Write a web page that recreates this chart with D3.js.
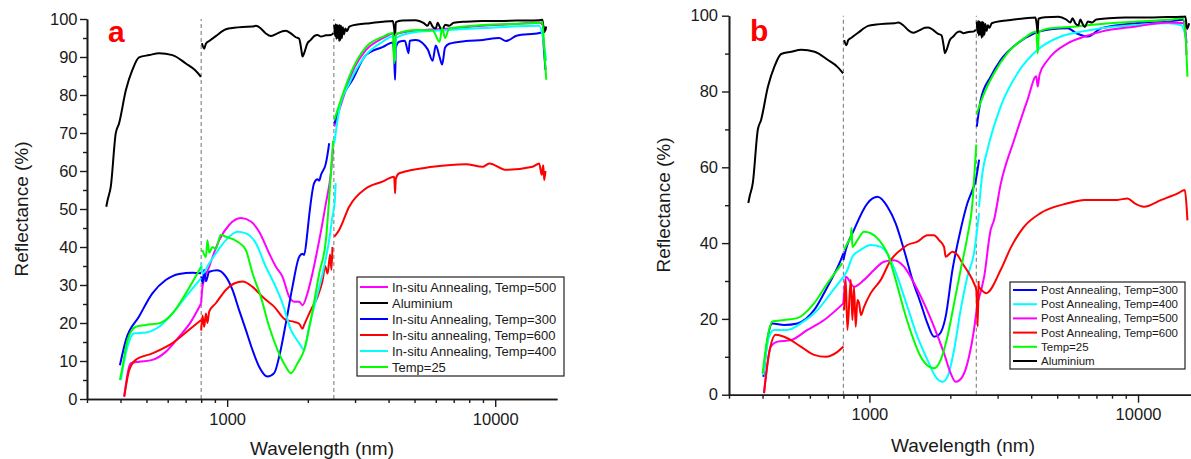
<!DOCTYPE html>
<html>
<head>
<meta charset="utf-8">
<script src="https://cdnjs.cloudflare.com/ajax/libs/d3/7.8.5/d3.min.js"></script>
<style>
  html, body { margin: 0; padding: 0; background: #fff; }
  svg { display: block; font-family: Arial, "Liberation Sans", sans-serif; }
</style>
</head>
<body>
<svg id="chart" width="1191" height="459"></svg>
<script>
// ---------------- DATA (wavelength nm, reflectance %) ----------------
// each series is a list of measured segments (UV-Vis / NIR / FTIR)
const aluminium = [
  [[354,50.6],[358,52.3],[368,55.9],[384,69.9],[395,72.5],[419,81.3],[443,86.6],[469,89.9],[512,90.5],[557,91.0],[625,90.5],[701,88.3],[760,86.5],[798,84.8]],
  [[805,93.6],[821,92.2],[833,93.5],[857,94.2],[907,95.5],[989,97.3],[1062,97.7],[1141,97.9],[1243,98.0],[1280,98.2],[1335,97.5],[1394,96.2],[1455,95.5],[1520,96.0],[1608,96.8],[1655,96.9],[1729,96.2],[1804,95.2],[1856,94.8],[1890,92.0],[1910,90.1],[1937,91.0],[1993,93.6],[2051,94.5],[2111,95.5],[2173,95.8],[2239,95.4],[2335,95.7],[2437,95.8],[2490,96.3]],
  [[2510,98.4],[2525,95.5],[2540,98.6],[2555,94.8],[2570,98.5],[2590,95.0],[2605,98.3],[2617,94.2],[2630,98.4],[2645,94.5],[2660,98.2],[2680,95.0],[2700,97.8],[2730,96.0],[2760,97.5],[2800,96.8],[2852,98.0],[3109,98.6],[3292,98.8],[3796,99.3],[4150,99.5],[4198,97.5],[4230,95.4],[4258,99.2],[4500,99.6],[5058,99.7],[5400,99.0],[5600,98.2],[5700,99.3],[5840,98.0],[6000,97.5],[6100,99.0],[6200,98.0],[6340,97.0],[6500,98.5],[6734,98.2],[7000,99.0],[7772,99.3],[8973,99.5],[10350,99.5],[12000,99.6],[14590,99.7],[15000,99.8],[15230,96.5],[15500,98.0]]
];

// Panel a : in-situ annealing
const insitu500 = [
  [[413,0.6],[437,9.4],[469,9.8],[526,10.3],[590,12.4],[662,16.4],[732,20.3],[800,25.2]],
  [[800,25.2],[809,29.5],[857,34.8],[934,41.8],[1017,45.8],[1125,47.6],[1226,46.7],[1316,44.0],[1435,38.3],[1520,34.8],[1608,32.2],[1704,26.9],[1778,25.6],[1856,25.6],[1910,24.7],[1993,27.8],[2081,33.1],[2206,41.8],[2335,51.5],[2437,59.4],[2484,66.0]],
  [[2510,71.7],[2692,78.7],[2934,86.1],[3292,91.8],[3796,94.9],[4198,96.2],[4230,92.0],[4258,96.0],[5058,96.9],[6734,97.5],[8973,98.2],[11940,98.7],[14590,99.1],[15500,97.0]]
];
const insitu300 = [
  [[398,8.9],[419,15.5],[469,21.7],[526,27.8],[590,31.3],[662,32.9],[742,33.2],[800,33.1]],
  [[800,32.2],[810,30.5],[821,34.0],[833,31.0],[857,33.5],[920,33.9],[989,32.2],[1047,28.7],[1108,23.4],[1174,18.2],[1243,12.9],[1316,8.5],[1413,5.9],[1497,6.8],[1563,11.1],[1655,19.9],[1752,29.5],[1856,37.4],[1910,38.2],[1937,37.9],[1993,44.0],[2021,48.0],[2111,56.8],[2173,57.8],[2206,57.5],[2239,59.0],[2335,62.0],[2370,64.5],[2402,67.3]],
  [[2510,72.5],[2560,74.3],[2692,79.5],[2934,84.0],[3292,90.5],[3796,92.6],[4150,93.8],[4198,90.0],[4230,84.0],[4258,92.5],[4381,94.0],[4600,94.3],[4750,91.0],[4800,94.3],[5058,94.5],[5600,92.0],[5840,89.0],[6000,93.0],[6200,90.0],[6340,88.0],[6500,92.5],[6734,93.5],[7772,94.2],[9000,94.5],[10350,95.0],[10960,94.2],[11280,94.5],[12000,95.6],[14590,96.3],[15000,96.5],[15230,91.0],[15400,86.6]]
];
const insitu600 = [
  [[413,0.6],[431,7.6],[456,10.3],[526,12.0],[625,14.7],[721,18.2],[800,20.8]],
  [[800,18.0],[809,22.0],[821,19.0],[833,22.5],[844,20.0],[857,23.0],[907,25.2],[989,28.7],[1062,30.4],[1141,30.9],[1243,29.5],[1354,26.9],[1497,24.3],[1655,20.8],[1778,20.3],[1856,19.8],[1910,18.5],[1937,19.5],[2051,23.4],[2173,26.9],[2271,31.3],[2320,35.0],[2370,33.0],[2420,38.0],[2450,34.0],[2470,40.0]],
  [[2510,42.7],[2617,44.5],[2852,50.6],[3292,55.4],[3796,57.2],[4198,58.5],[4230,54.1],[4258,58.0],[4381,59.4],[5840,61.1],[7772,61.8],[8973,61.1],[9507,62.0],[10960,60.3],[13780,61.1],[14590,62.0],[14900,59.0],[15100,61.5],[15230,57.6],[15400,60.0]]
];
const insitu400 = [
  [[401,5.0],[425,13.8],[450,17.3],[497,17.5],[557,19.0],[625,22.5],[701,26.9],[800,31.8]],
  [[800,35.7],[809,33.0],[857,35.7],[907,38.3],[989,41.8],[1093,44.0],[1174,43.6],[1280,41.0],[1394,34.8],[1497,30.4],[1608,25.2],[1729,18.2],[1856,14.7],[1937,12.9],[2021,19.0],[2142,26.0],[2271,33.1],[2402,41.8],[2470,48.0],[2520,52.0],[2540,56.8]],
  [[2510,67.3],[2617,76.0],[2852,83.0],[3292,90.5],[3796,94.0],[4198,95.5],[4230,89.0],[4258,95.0],[5058,96.6],[6734,97.1],[8973,97.6],[14590,98.2],[15300,92.0],[15500,89.0]]
];
const temp25a = [
  [[398,5.0],[405,7.6],[425,15.5],[456,19.0],[497,19.5],[557,19.9],[625,22.5],[701,27.8],[800,34.8]],
  [[809,39.2],[833,37.4],[844,41.8],[857,38.5],[882,40.0],[907,39.5],[947,43.2],[989,42.7],[1093,41.4],[1174,39.2],[1243,33.1],[1335,26.9],[1435,19.0],[1541,12.9],[1655,8.5],[1729,6.8],[1830,9.4],[1937,12.9],[2051,20.8],[2206,33.1],[2335,41.8],[2437,59.4],[2484,68.0]],
  [[2510,73.4],[2934,86.8],[3292,92.6],[3796,95.3],[4150,96.3],[4198,88.3],[4258,96.0],[5058,97.1],[5840,97.0],[6200,94.0],[6340,97.6],[6500,95.0],[6734,97.5],[8973,98.4],[14590,99.0],[15000,99.2],[15300,90.0],[15500,84.0]]
];

// Panel b : post annealing
const post300 = [
  [[403,4.7],[417,14.4],[435,18.8],[481,18.4],[539,18.8],[622,22.3],[698,28.5],[782,35.5],[800,37.3]],
  [[800,35.5],[816,38.2],[876,43.5],[983,50.5],[1071,52.2],[1167,49.6],[1252,45.2],[1345,38.2],[1446,30.3],[1552,24.1],[1644,18.8],[1740,15.3],[1815,15.8],[1922,20.6],[2037,32.9],[2185,43.5],[2315,50.5],[2417,54.0],[2488,56.6],[2560,62.0]],
  [[2510,70.7],[2596,77.8],[2827,83.9],[3079,88.3],[3557,92.7],[4093,95.3],[4735,96.4],[5467,96.7],[5922,95.3],[6500,94.5],[7300,96.7],[9710,98.0],[12930,98.4],[14700,98.9],[15150,92.7]]
];
const post400 = [
  [[403,5.2],[423,15.3],[441,17.1],[495,17.1],[555,18.8],[640,22.3],[718,26.8],[800,31.1]],
  [[800,31.1],[828,32.9],[864,36.4],[928,38.2],[1011,39.5],[1102,39.0],[1183,36.4],[1271,31.1],[1385,23.2],[1509,15.3],[1644,9.2],[1765,4.7],[1869,3.4],[1951,4.7],[2066,11.8],[2185,22.3],[2315,31.1],[2450,37.3],[2559,47.9]],
  [[2559,49.6],[2633,58.4],[2750,64.6],[3079,76.0],[3557,84.8],[4230,91.0],[5160,94.5],[6140,95.8],[7300,96.7],[9710,97.5],[12930,98.0],[14510,97.5],[15150,93.6]]
];
const post500 = [
  [[405,0.4],[429,12.7],[455,14.0],[509,14.4],[588,17.1],[678,19.7],[800,24.1]],
  [[800,24.1],[816,31.1],[876,28.5],[955,30.3],[1040,32.9],[1133,35.1],[1235,35.5],[1345,33.8],[1466,29.4],[1597,24.1],[1740,17.9],[1896,10.9],[2008,5.6],[2096,3.4],[2217,4.7],[2348,10.0],[2450,17.1],[2523,24.1]],
  [[2523,24.1],[2673,31.1],[2827,43.5],[2910,46.1],[3079,55.5],[3456,67.2],[3878,77.8],[4180,84.0],[4230,81.3],[4300,84.5],[4611,88.3],[5467,92.7],[6319,94.5],[7300,95.8],[9710,97.1],[12930,98.2],[14930,98.0],[15150,89.6]]
];
const post600 = [
  [[405,0.4],[423,10.9],[448,15.8],[481,15.3],[555,12.7],[622,10.5],[688,10.0],[760,11.3],[800,12.7]],
  [[805,22.3],[816,30.3],[828,17.1],[852,30.3],[864,19.7],[876,28.5],[889,17.9],[902,25.0],[915,24.1],[930,21.0],[955,23.2],[1011,26.8],[1102,30.3],[1200,35.5],[1307,38.2],[1385,39.5],[1509,40.4],[1644,42.1],[1740,42.1],[1815,40.8],[1896,39.0],[1922,36.4],[2037,37.7],[2126,36.9],[2217,34.7],[2348,32.0],[2450,29.4],[2500,27.6],[2530,18.0],[2550,30.0]],
  [[2550,28.5],[2720,26.8],[3079,32.9],[3370,39.0],[3760,44.3],[4334,47.9],[5467,50.5],[6319,51.4],[8375,51.4],[9128,51.8],[9710,50.5],[10520,49.6],[12220,51.4],[14050,53.1],[14930,54.0],[15150,50.0],[15270,46.0]]
];
const temp25b = [
  [[400,5.6],[417,14.9],[435,19.3],[481,19.7],[539,20.2],[622,24.1],[698,29.4],[793,34.7]],
  [[805,38.2],[828,40.0],[852,41.7],[858,44.0],[864,39.0],[902,40.8],[955,43.0],[1011,42.6],[1086,40.8],[1167,37.3],[1252,30.3],[1345,22.3],[1446,15.3],[1552,10.0],[1667,7.4],[1740,7.0],[1842,9.2],[1951,15.3],[2066,24.1],[2185,32.9],[2315,41.7],[2417,50.5],[2465,59.3],[2500,66.0]],
  [[2510,74.2],[2673,79.5],[2910,84.8],[3264,90.1],[3760,94.0],[4180,95.8],[4230,90.1],[4280,95.8],[4735,96.7],[5754,97.1],[7300,97.8],[9710,98.4],[12930,98.9],[14700,99.3],[15150,90.0],[15270,83.9]]
];

// Tick values / labels
const xMajorTicks = [1000, 10000];
const xMinorTicks = [300,400,500,600,700,800,900,2000,3000,4000,5000,6000,7000,8000,9000];
const yTicksA = [0,10,20,30,40,50,60,70,80,90,100];
const yMinorA = [5,15,25,35,45,55,65,75,85,95];
const yTicksB = [0,20,40,60,80,100];
const yMinorB = [10,30,50,70,90];
const instrumentBreaks = [800, 2500];

const labelsA = ["In-situ Annealing, Temp=500","Aluminium","In-situ Annealing, Temp=300","In-situ annealing, Temp=600","In-situ Annealing, Temp=400","Temp=25"];
const seriesA = [insitu500, aluminium, insitu300, insitu600, insitu400, temp25a];
const labelsB = ["Post Annealing, Temp=300","Post Annealing, Temp=400","Post Annealing, Temp=500","Post Annealing, Temp=600","Temp=25","Aluminium"];
const seriesB = [post300, post400, post500, post600, temp25b, aluminium];

// ---------------- STYLE / LAYOUT ----------------
const colorsA = ["#ff00ff","#000000","#0000ff","#ff0000","#00ffff","#00ff00"];
const colorsB = ["#0000ff","#00ffff","#ff00ff","#ff0000","#00ff00","#000000"];

const svg = d3.select("#chart");

function panel(cfg) {
  const x = d3.scaleLog().domain(cfg.xDomain).range(cfg.xRange);
  const y = d3.scaleLinear().domain([0,100]).range(cfg.yRange);
  const g = svg.append("g");

  // dashed instrument-break lines
  g.selectAll("line.brk").data(instrumentBreaks).enter().append("line")
    .attr("x1", d => x(d)).attr("x2", d => x(d))
    .attr("y1", y(0)).attr("y2", y(100))
    .attr("stroke", "#8a8a8a").attr("stroke-width", 1.2).attr("stroke-dasharray", "4,3");

  const line = d3.line().x(d => x(d[0])).y(d => y(d[1])).curve(d3.curveMonotoneX);
  cfg.series.forEach((s, i) => {
    s.forEach(seg => {
      g.append("path").datum(seg).attr("d", line)
        .attr("fill", "none").attr("stroke", cfg.colors[i])
        .attr("stroke-width", 2).attr("stroke-linejoin", "round");
    });
  });

  // axes
  const xAxisMajor = d3.axisBottom(x).tickValues(xMajorTicks).tickFormat(d3.format("d"))
    .tickSizeInner(8).tickSizeOuter(0).tickPadding(cfg.xPad);
  const xAxisMinor = d3.axisBottom(x).tickValues(xMinorTicks).tickFormat("")
    .tickSizeInner(4).tickSizeOuter(0);
  const yAxisMajor = d3.axisLeft(y).tickValues(cfg.yTicks).tickSizeInner(7).tickSizeOuter(0).tickPadding(cfg.yPad);
  const yAxisMinor = d3.axisLeft(y).tickValues(cfg.yMinor).tickFormat("").tickSizeInner(4).tickSizeOuter(0);

  [xAxisMinor, xAxisMajor].forEach(ax => {
    g.append("g").attr("transform", `translate(0,${y(0)})`).call(ax);
  });
  [yAxisMinor, yAxisMajor].forEach(ax => {
    g.append("g").attr("transform", `translate(${x(cfg.xDomain[0])},0)`).call(ax);
  });
  g.selectAll(".domain").attr("stroke", "#1a1a1a").attr("stroke-width", 1.6);
  g.selectAll(".tick line").attr("stroke", "#1a1a1a").attr("stroke-width", 1.4);
  g.selectAll(".tick text").attr("font-size", cfg.tickFont).attr("fill", "#1a1a1a")
    .attr("font-family", "Arial, 'Liberation Sans', sans-serif");

  // axis titles
  g.append("text").attr("x", cfg.xTitle[0]).attr("y", cfg.xTitle[1])
    .attr("text-anchor", "middle").attr("font-size", 19).attr("fill", "#1a1a1a")
    .text("Wavelength (nm)");
  g.append("text").attr("transform", `translate(${cfg.yTitle[0]},${cfg.yTitle[1]}) rotate(-90)`)
    .attr("text-anchor", "middle").attr("font-size", 19).attr("fill", "#1a1a1a")
    .text("Reflectance (%)");

  // panel letter
  g.append("text").attr("x", cfg.letterPos[0]).attr("y", cfg.letterPos[1])
    .attr("font-size", 30).attr("font-weight", "bold").attr("fill", "#ff0000")
    .text(cfg.letter);

  // legend
  const L = cfg.legend;
  const lg = g.append("g");
  lg.append("rect").attr("x", L.x).attr("y", L.y).attr("width", L.w).attr("height", L.h)
    .attr("fill", "#fff").attr("stroke", "#222").attr("stroke-width", 1.2);
  cfg.labels.forEach((lab, i) => {
    const cy = L.y + L.first + i * L.step;
    lg.append("line").attr("x1", L.x + 3).attr("x2", L.x + L.lineLen).attr("y1", cy).attr("y2", cy)
      .attr("stroke", cfg.colors[i]).attr("stroke-width", 2);
    lg.append("text").attr("x", L.x + L.lineLen + 4).attr("y", cy).attr("dy", "0.35em")
      .attr("font-size", L.font).attr("fill", "#1a1a1a").text(lab);
  });
}

panel({
  xDomain: [300, 17000], xRange: [87, 557], yRange: [399, 19],
  series: seriesA, colors: colorsA, labels: labelsA,
  yTicks: yTicksA, yMinor: yMinorA, xPad: 6.5, yPad: 2.5, tickFont: 16.5,
  xTitle: [322, 455], yTitle: [28, 209], letter: "a", letterPos: [108, 42],
  legend: { x: 357, y: 277, w: 207, h: 99, first: 10, step: 16, lineLen: 31, font: 13 }
});
panel({
  xDomain: [300, 15800], xRange: [729, 1191.4], yRange: [394.7, 15.7],
  series: seriesB, colors: colorsB, labels: labelsB,
  yTicks: yTicksB, yMinor: yMinorB, xPad: 6, yPad: 4, tickFont: 16.5,
  xTitle: [963, 452], yTitle: [670, 205], letter: "b", letterPos: [750, 41],
  legend: { x: 1010, y: 282, w: 175, h: 87, first: 8, step: 14.2, lineLen: 27, font: 11.5 }
});
</script>
</body>
</html>
